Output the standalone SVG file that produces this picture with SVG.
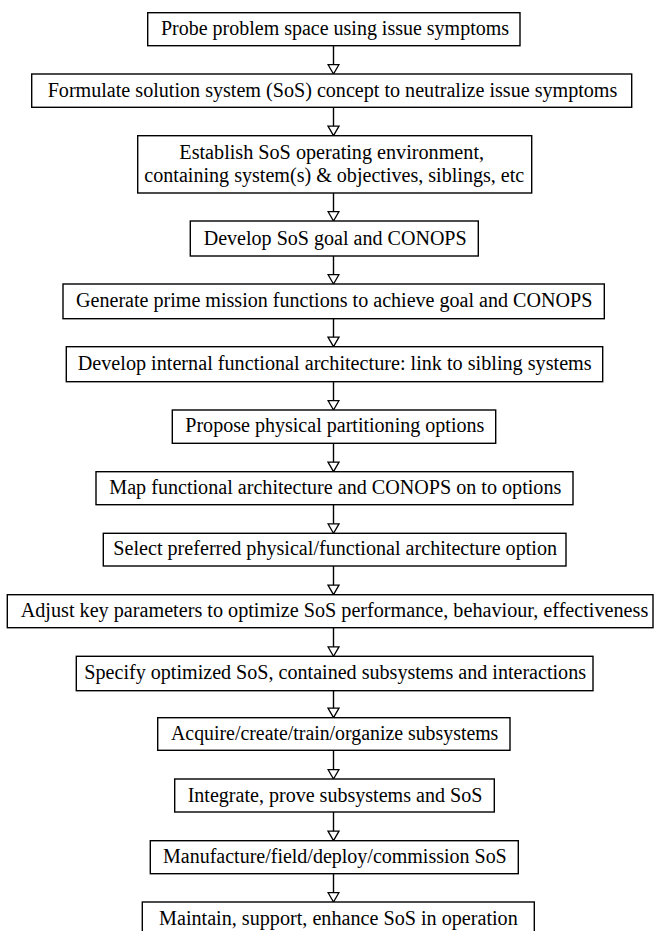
<svg xmlns="http://www.w3.org/2000/svg" width="654" height="931" viewBox="0 0 654 931">
<style>
.box{fill:#fff;stroke:#000;stroke-width:1.4}
.c{stroke:#000;stroke-width:1.4;fill:none;marker-end:url(#ah)}
</style>
<defs>
<marker id="ah" markerUnits="userSpaceOnUse" markerWidth="12" markerHeight="14" viewBox="-1 -7 12 14" refX="9.5" refY="0" orient="auto">
<path d="M0,-5.5 L9.5,0 L0,5.5 Z" fill="#fff" stroke="#000" stroke-width="1.3" stroke-linejoin="miter"/>
</marker>
</defs>
<rect width="654" height="931" fill="#fff"/>
<g id="connectors">
<line class="c" x1="333.5" y1="45.7" x2="333.5" y2="74"/>
<line class="c" x1="333.5" y1="107.3" x2="333.5" y2="135.7"/>
<line class="c" x1="333.5" y1="193" x2="333.5" y2="221"/>
<line class="c" x1="333.5" y1="256" x2="333.5" y2="284"/>
<line class="c" x1="333.5" y1="318.7" x2="333.5" y2="346.7"/>
<line class="c" x1="333.5" y1="381.7" x2="333.5" y2="410"/>
<line class="c" x1="333.5" y1="443.3" x2="333.5" y2="471.7"/>
<line class="c" x1="333.5" y1="504.7" x2="333.5" y2="533.3"/>
<line class="c" x1="333.5" y1="566" x2="333.5" y2="594.7"/>
<line class="c" x1="333.5" y1="627.7" x2="333.5" y2="656.3"/>
<line class="c" x1="333.5" y1="690.7" x2="333.5" y2="717.7"/>
<line class="c" x1="333.5" y1="750.3" x2="333.5" y2="779"/>
<line class="c" x1="333.5" y1="812" x2="333.5" y2="840.7"/>
<line class="c" x1="333.5" y1="873.7" x2="333.5" y2="902"/>
</g>
<g id="n1"><rect class="box" x="147.7" y="12.7" width="372.3" height="33"/><text font-family="'Liberation Serif', serif" font-size="20" text-anchor="middle" x="335" y="35" textLength="348" lengthAdjust="spacingAndGlyphs">Probe problem space using issue symptoms</text></g>
<g id="n2"><rect class="box" x="31.7" y="74" width="600" height="33.3"/><text font-family="'Liberation Serif', serif" font-size="20" text-anchor="middle" x="332.5" y="96.7" textLength="569.7" lengthAdjust="spacingAndGlyphs">Formulate solution system (SoS) concept to neutralize issue symptoms</text></g>
<g id="n3"><rect class="box" x="137.7" y="135.7" width="394" height="57.3"/><text font-family="'Liberation Serif', serif" font-size="20" text-anchor="middle" x="331.7" y="159.3" textLength="304.7" lengthAdjust="spacingAndGlyphs">Establish SoS operating environment,</text><text font-family="'Liberation Serif', serif" font-size="20" text-anchor="middle" x="334.3" y="181.7" textLength="380" lengthAdjust="spacingAndGlyphs">containing system(s) &amp; objectives, siblings, etc</text></g>
<g id="n4"><rect class="box" x="190.3" y="221" width="288" height="35"/><text font-family="'Liberation Serif', serif" font-size="20" text-anchor="middle" x="335.2" y="245" textLength="263" lengthAdjust="spacingAndGlyphs">Develop SoS goal and CONOPS</text></g>
<g id="n5"><rect class="box" x="63" y="284" width="541.3" height="34.7"/><text font-family="'Liberation Serif', serif" font-size="20" text-anchor="middle" x="334.2" y="307.3" textLength="516.3" lengthAdjust="spacingAndGlyphs">Generate prime mission functions to achieve goal and CONOPS</text></g>
<g id="n6"><rect class="box" x="66.3" y="346.7" width="536.4" height="35"/><text font-family="'Liberation Serif', serif" font-size="20" text-anchor="middle" x="334.7" y="370" textLength="514" lengthAdjust="spacingAndGlyphs">Develop internal functional architecture: link to sibling systems</text></g>
<g id="n7"><rect class="box" x="172.3" y="410" width="323.4" height="33.3"/><text font-family="'Liberation Serif', serif" font-size="20" text-anchor="middle" x="334.8" y="432.3" textLength="299" lengthAdjust="spacingAndGlyphs">Propose physical partitioning options</text></g>
<g id="n8"><rect class="box" x="96" y="471.7" width="477" height="33"/><text font-family="'Liberation Serif', serif" font-size="20" text-anchor="middle" x="335.3" y="494" textLength="452" lengthAdjust="spacingAndGlyphs">Map functional architecture and CONOPS on to options</text></g>
<g id="n9"><rect class="box" x="103.3" y="533.3" width="462.7" height="32.7"/><text font-family="'Liberation Serif', serif" font-size="20" text-anchor="middle" x="335.2" y="555" textLength="443.7" lengthAdjust="spacingAndGlyphs">Select preferred physical/functional architecture option</text></g>
<g id="n10"><rect class="box" x="7.3" y="594.7" width="645.7" height="33"/><text font-family="'Liberation Serif', serif" font-size="20" text-anchor="middle" x="334.5" y="616.7" textLength="627.6" lengthAdjust="spacingAndGlyphs">Adjust key parameters to optimize SoS performance, behaviour, effectiveness</text></g>
<g id="n11"><rect class="box" x="76.3" y="656.3" width="516.7" height="34.4"/><text font-family="'Liberation Serif', serif" font-size="20" text-anchor="middle" x="335.2" y="679.3" textLength="501.7" lengthAdjust="spacingAndGlyphs">Specify optimized SoS, contained subsystems and interactions</text></g>
<g id="n12"><rect class="box" x="157.7" y="717.7" width="352.3" height="32.6"/><text font-family="'Liberation Serif', serif" font-size="20" text-anchor="middle" x="334.7" y="740" textLength="327.3" lengthAdjust="spacingAndGlyphs">Acquire/create/train/organize subsystems</text></g>
<g id="n13"><rect class="box" x="174.7" y="779" width="319.6" height="33"/><text font-family="'Liberation Serif', serif" font-size="20" text-anchor="middle" x="335" y="801.7" textLength="294.7" lengthAdjust="spacingAndGlyphs">Integrate, prove subsystems and SoS</text></g>
<g id="n14"><rect class="box" x="150.3" y="840.7" width="368" height="33"/><text font-family="'Liberation Serif', serif" font-size="20" text-anchor="middle" x="334.9" y="863.3" textLength="343.7" lengthAdjust="spacingAndGlyphs">Manufacture/field/deploy/commission SoS</text></g>
<g id="n15"><rect class="box" x="142.3" y="902" width="392" height="34"/><text font-family="'Liberation Serif', serif" font-size="20" text-anchor="middle" x="338.4" y="925" textLength="358.7" lengthAdjust="spacingAndGlyphs">Maintain, support, enhance SoS in operation</text></g>
</svg>
